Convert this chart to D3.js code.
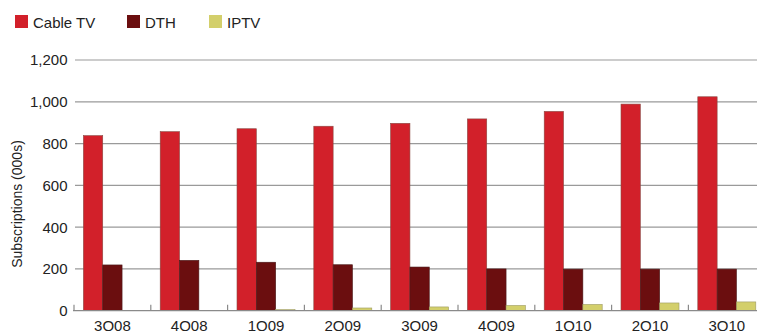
<!DOCTYPE html>
<html>
<head>
<meta charset="utf-8">
<script src="https://cdn.jsdelivr.net/npm/d3@7/dist/d3.min.js"></script>
<style>
  html, body { margin: 0; padding: 0; background: #fff; }
  svg { display: block; font-family: "Liberation Sans", Arial, Helvetica, sans-serif; }
</style>
</head>
<body>
<svg id="chart" width="757" height="331"></svg>
<script>
// Quarterly pay-TV subscriptions (thousands)
const quarters = ["3Q08", "4Q08", "1Q09", "2Q09", "3Q09", "4Q09", "1Q10", "2Q10", "3Q10"];
const seriesNames = ["Cable TV", "DTH", "IPTV"];
const cableTV = [838, 857, 871, 883, 897, 918, 954, 989, 1024];
const dth     = [219, 241, 232, 220, 209, 200, 199, 199, 199];
const iptv    = [1, 1, 5, 13, 18, 25, 30, 37, 42];
const yTicks  = [0, 200, 400, 600, 800, 1000, 1200];
const colors  = ["#d2202a", "#6b0e0f", "#d3cf6b"];
const strokes = ["#8a4a44", "#4a1a1a", "#9c9a62"];

const rows = quarters.map((q, i) => ({ q, values: [cableTV[i], dth[i], iptv[i]] }));

const svg = d3.select("#chart");
const W = 757;
const plotLeft = 74, bandW = 76.8;
const y0 = 310.7, yTop = 60;

const x = d3.scaleBand().domain(quarters)
  .range([plotLeft, plotLeft + bandW * quarters.length]).paddingInner(0).paddingOuter(0);
const xs = d3.scaleBand().domain(seriesNames).range([9.4, 67.4]).padding(0);
const y = d3.scaleLinear().domain([0, 1200]).range([y0, yTop]);

// horizontal gridlines
svg.append("g").selectAll("line").data(yTicks.filter(d => d > 0)).join("line")
  .attr("x1", 75).attr("x2", W)
  .attr("y1", d => y(d)).attr("y2", d => y(d))
  .attr("stroke", "#9a9a9a").attr("stroke-width", 1.2);

// y tick labels
svg.append("g").selectAll("text").data(yTicks).join("text")
  .attr("x", 67.5).attr("y", d => y(d)).attr("dy", "0.36em")
  .attr("text-anchor", "end").attr("font-size", 15).attr("fill", "#222")
  .text(d => d3.format(",")(d));

// y axis title
svg.append("text")
  .attr("transform", `translate(22,204) rotate(-90)`)
  .attr("text-anchor", "middle").attr("font-size", 14).attr("fill", "#222")
  .text("Subscriptions (000s)");

// bars
const groups = svg.append("g").selectAll("g").data(rows).join("g")
  .attr("transform", d => `translate(${x(d.q)},0)`);
groups.selectAll("rect").data(d => d.values.map((v, k) => ({ v, k })))
  .join("rect")
  .attr("x", d => xs(seriesNames[d.k]))
  .attr("width", xs.bandwidth())
  .attr("y", d => y(d.v))
  .attr("height", d => y0 - y(d.v))
  .attr("fill", d => colors[d.k])
  .attr("stroke", d => strokes[d.k]).attr("stroke-width", 0.6);

// category axis: baseline and upward ticks between quarters
svg.append("line").attr("x1", 73).attr("x2", W).attr("y1", y0).attr("y2", y0)
  .attr("stroke", "#8a8a8a").attr("stroke-width", 1.2);
const boundaries = quarters.map(q => x(q));
svg.append("g").selectAll("line").data(boundaries).join("line")
  .attr("x1", d => d).attr("x2", d => d).attr("y1", y0).attr("y2", y0 - 6)
  .attr("stroke", "#8a8a8a").attr("stroke-width", 1.2);

// x labels (run off the lower edge of the frame)
svg.append("g").selectAll("text").data(quarters).join("text")
  .attr("x", d => x(d) + bandW / 2).attr("y", 330.5)
  .attr("text-anchor", "middle").attr("font-size", 15).attr("fill", "#222")
  .text(d => d);

// legend
const legendX = [15, 127, 209];
const legend = svg.append("g").selectAll("g").data(seriesNames).join("g")
  .attr("transform", (d, i) => `translate(${legendX[i]},15)`);
legend.append("rect").attr("width", 13).attr("height", 13)
  .attr("fill", (d, i) => colors[i]);
legend.append("text").attr("x", 18).attr("y", 12.5)
  .attr("font-size", 15).attr("fill", "#222").text(d => d);
</script>
</body>
</html>
